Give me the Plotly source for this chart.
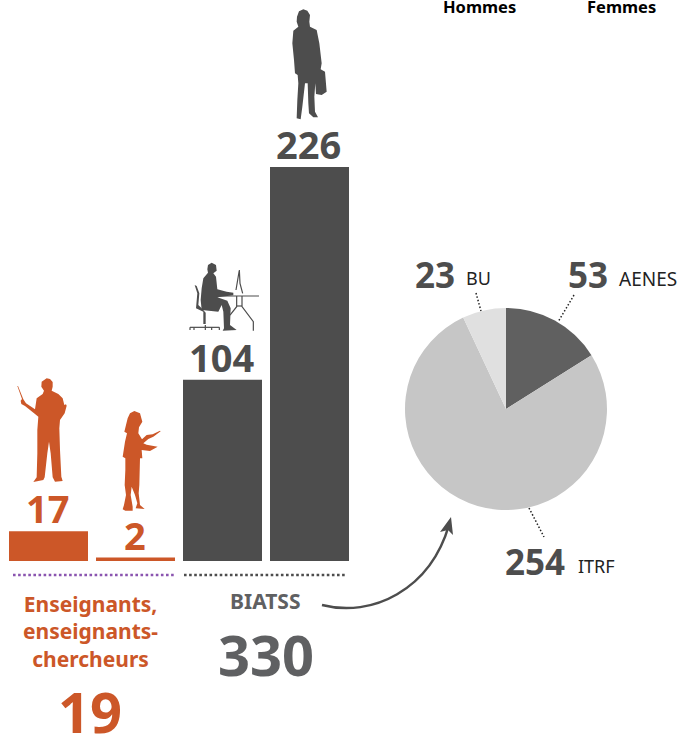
"""Personnel par catégorie : barres et camembert BIATSS."""

import plotly.graph_objects as go

WIDTH = 679
HEIGHT = 734

ORANGE = "#CC5728"
DARK = "#4D4D4D"
GREY_TEXT = "#5F6062"
FONT = "Noto Sans"

# Bars
bar_categories = ["ens_h", "ens_f", "biatss_h", "biatss_f"]
bar_values = [17, 2, 104, 226]
bar_colors = [ORANGE, ORANGE, DARK, DARK]

# Pie
pie_labels = ["AENES", "ITRF", "BU"]
pie_values = [53, 254, 23]
pie_colors = ["#606060", "#C6C6C6", "#E0E0E0"]

# Totals
total_enseignants = 19
total_biatss = 330

# Silhouette outlines, traced at 3x from the picture: (offset x, offset y, points)
TEACHER_MAN = [
    (140, 25), (150, 27), (158, 36), (158, 50), (155, 62), (175, 72), (188, 85), (193, 105), (198, 103), (200, 107),
    (194, 130), (180, 150), (178, 175), (180, 240), (184, 320), (188, 333), (165, 335), (158, 322), (152, 250),
    (147, 215), (142, 250), (134, 322), (130, 330), (100, 336), (110, 322), (112, 250), (112, 180), (115, 140),
    (105, 132), (75, 108), (64, 102), (62, 92), (66, 87), (52, 48), (54, 48), (70, 88), (78, 100), (105, 118),
    (110, 85), (128, 72), (132, 62), (124, 50), (125, 35),
]
TEACHER_WOMAN = [
    (403, 123), (390, 130), (383, 145), (378, 165), (373, 185), (381, 190), (375, 215), (368, 260), (376, 265),
    (376, 300), (374, 345), (378, 375), (372, 405), (368, 418), (376, 422), (398, 422), (398, 410), (392, 375),
    (395, 350), (405, 375), (412, 400), (407, 415), (434, 417), (420, 405), (416, 370), (418, 345), (420, 265),
    (427, 265), (425, 240), (450, 243), (473, 230), (440, 224), (430, 220), (445, 207), (460, 200), (482, 184),
    (480, 182), (458, 193), (440, 195), (426, 208), (415, 190), (417, 172), (427, 155), (420, 130),
]
OFFICE_WOMAN = [
    (370, 28), (357, 34), (351, 50), (350, 65), (355, 80), (340, 92), (337, 130), (342, 180), (345, 220), (353, 225),
    (355, 250), (352, 300), (350, 355), (362, 358), (367, 320), (375, 250), (383, 250), (385, 310), (387, 340),
    (400, 352), (414, 352), (405, 335), (403, 290), (406, 250), (408, 282), (425, 285), (440, 275), (435, 215),
    (422, 208), (425, 190), (418, 130), (410, 90), (390, 80), (388, 65), (390, 45), (382, 32),
]
OFFICE_MAN = [
    (95, 788), (84, 795), (82, 808), (84, 818), (70, 835), (65, 865), (62, 900), (65, 930), (115, 935), (125, 915),
    (130, 935), (132, 985), (128, 992), (170, 990), (150, 975), (152, 925), (142, 902), (112, 892), (160, 886),
    (160, 878), (140, 875), (112, 868), (108, 830), (100, 820), (110, 812), (108, 795),
]
OFFICE_CHAIR = [(44, 855), (52, 880), (48, 925), (70, 935), (70, 972), (77, 972), (77, 938), (65, 925), (55, 915), (58, 880), (50, 858)]
OFFICE_LINES = [
    [(30, 982), (118, 982)],
    [(30, 982), (30, 990)],
    [(42, 982), (42, 990)],
    [(76, 975), (76, 990)],
    [(95, 982), (95, 990)],
    [(118, 982), (118, 990)],
    [(110, 888), (237, 888)],
    [(168, 870), (178, 810), (180, 850), (188, 880)],
    [(170, 888), (170, 920), (150, 945)],
    [(186, 888), (186, 920), (220, 965), (220, 992)],
    [(170, 918), (186, 918)],
]


def px_x(x):
    return x / WIDTH


def px_y(y):
    return 1 - y / HEIGHT


def silhouette(points, dx, dy, color):
    """Closed outline, points in 3x zoom coordinates."""
    pts = [(x / 3 + dx, y / 3 + dy) for x, y in points]
    path = "M" + " L".join(f"{px_x(x):.5f},{px_y(y):.5f}" for x, y in pts) + " Z"
    return dict(type="path", xref="paper", yref="paper", path=path, fillcolor=color, line={"width": 0})


def polyline(points, dx, dy, color, width):
    pts = [(x / 3 + dx, y / 3 + dy) for x, y in points]
    path = "M" + " L".join(f"{px_x(x):.5f},{px_y(y):.5f}" for x, y in pts)
    return dict(type="path", xref="paper", yref="paper", path=path, line={"color": color, "width": width})


def dotted(x0, y0, x1, y1, color, width=2.6, dash="2.6px,2.5px"):
    return dict(
        type="line", xref="paper", yref="paper",
        x0=px_x(x0), y0=px_y(y0), x1=px_x(x1), y1=px_y(y1),
        line={"color": color, "width": width, "dash": dash},
    )


def label(text, x, y, size, color, bold=True, anchor="center"):
    return dict(
        text=f"<b>{text}</b>" if bold else text,
        xref="paper", yref="paper", x=px_x(x), y=px_y(y),
        xanchor=anchor, yanchor="middle", showarrow=False,
        font={"family": FONT, "size": size, "color": color},
    )


fig = go.Figure()

fig.add_trace(
    go.Bar(
        x=bar_categories,
        y=bar_values,
        marker={"color": bar_colors, "line": {"width": 0}},
        width=79 / 87,
        showlegend=False,
    )
)

fig.add_trace(
    go.Pie(
        labels=pie_labels,
        values=pie_values,
        marker={"colors": pie_colors, "line": {"width": 0}},
        sort=False,
        direction="clockwise",
        rotation=0,
        textinfo="none",
        showlegend=False,
        domain={"x": [405 / WIDTH, 607 / WIDTH], "y": [1 - 510 / HEIGHT, 1 - 308 / HEIGHT]},
    )
)

shapes = [
    silhouette(TEACHER_MAN, 0, 370, ORANGE),
    silhouette(TEACHER_WOMAN, 0, 370, ORANGE),
    silhouette(OFFICE_WOMAN, 180, 0, DARK),
    silhouette(OFFICE_MAN, 180, 0, DARK),
    silhouette(OFFICE_CHAIR, 180, 0, DARK),
    dotted(13, 575, 175, 575, "#8A55B0"),
    dotted(184, 575, 346, 575, DARK),
    dotted(476, 293, 481, 311, "#222222", 1.5, "1.5px,2px"),
    dotted(574, 295, 558, 322, "#222222", 1.5, "1.5px,2px"),
    dotted(529, 508, 544, 537, "#222222", 1.5, "1.5px,2px"),
    # Curved arrow to the pie
    dict(
        type="path", xref="paper", yref="paper",
        path=f"M{px_x(322)},{px_y(605)} C{px_x(372)},{px_y(618)} {px_x(430)},{px_y(590)} {px_x(449)},{px_y(525)}",
        line={"color": DARK, "width": 2.5},
    ),
    dict(
        type="path", xref="paper", yref="paper",
        path=f"M{px_x(451)},{px_y(517)} L{px_x(453)},{px_y(535)} L{px_x(448)},{px_y(530)} L{px_x(440)},{px_y(532)} Z",
        fillcolor=DARK, line={"width": 0},
    ),
]
shapes += [polyline(line, 180, 0, DARK, 1.2) for line in OFFICE_LINES]

annotations = [
    # Value labels follow the bars
    dict(
        text=f"<b>{value}</b>", x=category, y=value, xref="x", yref="y",
        yanchor="bottom", xshift=-1, yshift=-5, showarrow=False,
        font={"family": FONT, "size": 38, "color": color},
    )
    for category, value, color in zip(bar_categories, bar_values, bar_colors)
]
annotations += [
    label("Hommes", 479, 6, 16.5, "#000000"),
    label("Femmes", 621, 6, 16.5, "#000000"),
    label("Enseignants,<br>enseignants-<br>chercheurs", 90, 631, 21, ORANGE),
    label("BIATSS", 265, 601, 21, GREY_TEXT),
    label(total_biatss, 266, 654, 56, GREY_TEXT),
    label(total_enseignants, 90, 711, 56, ORANGE),
    label(pie_values[2], 413, 274, 35, DARK, anchor="left"),
    label(pie_labels[2], 464, 278, 18, "#222222", bold=False, anchor="left"),
    label(pie_values[0], 566, 274, 35, DARK, anchor="left"),
    label(pie_labels[0], 617, 279, 19, "#222222", bold=False, anchor="left"),
    label(pie_values[1], 503, 561, 35, DARK, anchor="left"),
    label(pie_labels[1], 576, 566, 18, "#222222", bold=False, anchor="left"),
]

fig.update_layout(
    width=WIDTH,
    height=HEIGHT,
    margin={"l": 0, "r": 0, "t": 0, "b": 0},
    paper_bgcolor="white",
    plot_bgcolor="white",
    shapes=shapes,
    annotations=annotations,
    xaxis={"domain": [5 / WIDTH, 353 / WIDTH], "range": [-0.5, 3.5], "visible": False},
    yaxis={"domain": [1 - 561 / HEIGHT, 1], "range": [0, 321.8], "visible": False},
)

fig.write_html(
    "out.html",
    config={"displayModeBar": False},
    post_script="document.body.style.margin = '0';",
)
